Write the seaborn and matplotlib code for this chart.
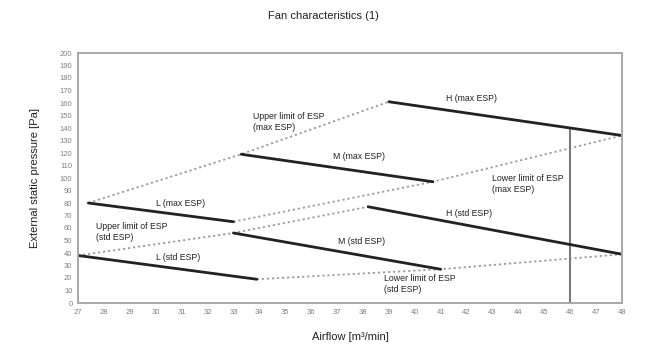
import matplotlib
matplotlib.use("Agg")
import matplotlib.pyplot as plt
import seaborn as sns
import pandas as pd

# ---- data ----
x_ticks = list(range(27, 49))
y_ticks = list(range(0, 201, 10))

# fan curves: (airflow, ESP) endpoints
L_max_x = [27.4, 33.0]; L_max_y = [80, 65]
M_max_x = [33.3, 40.7]; M_max_y = [119, 97]
H_max_x = [39.0, 48.0]; H_max_y = [161, 134]
L_std_x = [27.0, 33.9]; L_std_y = [38, 19]
M_std_x = [33.0, 41.0]; M_std_y = [56, 27]
H_std_x = [38.2, 48.0]; H_std_y = [77, 39]

# limit lines (dotted)
upper_max_x = [27.4, 33.3, 39.0]; upper_max_y = [80, 119, 161]
lower_max_x = [33.0, 40.7, 48.0]; lower_max_y = [65, 97, 134]
upper_std_x = [27.0, 33.0, 38.2]; upper_std_y = [38, 56, 77]
lower_std_x = [33.9, 41.0, 48.0]; lower_std_y = [19, 27, 39]

# reference vertical line
ref_x = [46, 46]; ref_y = [0, 140]

labels = [
    ("Upper limit of ESP\n(max ESP)", 33.75, 145),
    ("M (max ESP)", 36.85, 117),
    ("H (max ESP)", 41.2, 164),
    ("L (max ESP)", 30.0, 80),
    ("Lower limit of ESP\n(max ESP)", 43.0, 95),
    ("H (std ESP)", 41.2, 72),
    ("Upper limit of ESP\n(std ESP)", 27.7, 57),
    ("L (std ESP)", 30.0, 36),
    ("M (std ESP)", 37.05, 49),
    ("Lower limit of ESP\n(std ESP)", 38.8, 15),
]

sns.set_theme(style="white")
plt.rcParams['font.family'] = ['Liberation Sans', 'DejaVu Sans']

fig = plt.figure(figsize=(6.47, 3.53), dpi=100)
ax = fig.add_axes([78/647, 50/353, 544/647, 250/353])

dot_kw = dict(color="#9a9a9a", linewidth=1.3, linestyle=(0, (1.2, 1.6)),
              estimator=None, sort=False)
for xs, ys in [(upper_max_x, upper_max_y), (lower_max_x, lower_max_y),
               (upper_std_x, upper_std_y), (lower_std_x, lower_std_y)]:
    sns.lineplot(x=xs, y=ys, ax=ax, **dot_kw)

sns.lineplot(x=ref_x, y=ref_y, ax=ax, color="#7a7a7a", linewidth=1.5,
             estimator=None, sort=False)

solid_kw = dict(color="#222222", linewidth=2.0, estimator=None, sort=False)
for xs, ys in [(L_max_x, L_max_y), (M_max_x, M_max_y), (H_max_x, H_max_y),
               (L_std_x, L_std_y), (M_std_x, M_std_y), (H_std_x, H_std_y)]:
    sns.lineplot(x=xs, y=ys, ax=ax, **solid_kw)

for txt, x, y in labels:
    ax.text(x, y, txt, fontsize=6.3, color="#222222", ha="left", va="center",
            linespacing=1.3)

ax.set_xlim(27, 48)
ax.set_ylim(0, 200)
ax.set_xticks(x_ticks)
ax.set_xticklabels([str(v) for v in x_ticks])
ax.set_yticks(y_ticks)
ax.set_yticklabels([str(v) for v in y_ticks])
ax.tick_params(axis="both", labelsize=5.5, colors="#999999", length=2,
               direction="in", width=0.6, pad=4)
for tl in ax.get_xticklabels() + ax.get_yticklabels():
    tl.set_color("#808080")
for sp in ax.spines.values():
    sp.set_color("#a8a8a8")
    sp.set_linewidth(1.4)

ax.set_xlabel("Airflow [m³/min]", fontsize=8, color="#222222", labelpad=12)
ax.set_ylabel("External static pressure [Pa]", fontsize=8, color="#222222",
              labelpad=14)
fig.text(0.5, 0.955, "Fan characteristics (1)", fontsize=8, color="#222222",
         ha="center", va="center")

fig.savefig("out.png", dpi=100, facecolor="white")
